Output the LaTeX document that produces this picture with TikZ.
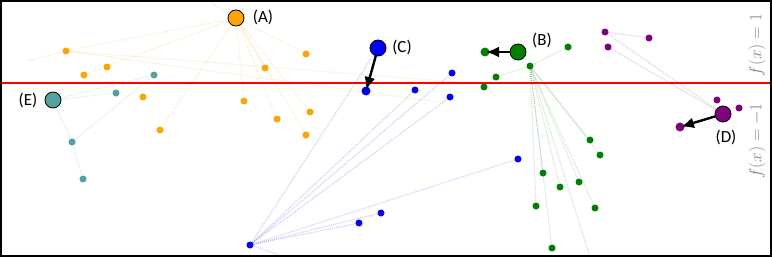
\documentclass[tikz,border=0pt]{standalone}
\usepackage{fontspec}
\setmainfont{Carlito}
\usepackage{tikz}
\usetikzlibrary{arrows.meta,backgrounds}
\definecolor{dotorange}{HTML}{FFA500}
\definecolor{dotgreen}{HTML}{008000}
\definecolor{dotblue}{HTML}{0000FF}
\definecolor{dotpurple}{HTML}{800080}
\definecolor{dotteal}{HTML}{52A3A0}
\definecolor{labelgray}{HTML}{808080}
\tikzset{
  bigdot/.style={circle,draw=black,line width=0.8pt,minimum size=16pt,inner sep=0pt},
  dot/.style={circle,minimum size=7pt,inner sep=0pt},
  tipdot/.style={dot,minimum size=9pt},
  link/.style={densely dotted,line width=1.1pt,draw opacity=0.2},
  push/.style={-{Latex[length=13pt,width=11pt]},line width=2.4pt,draw=black,shorten >=1pt},
  tag/.style={font=\fontsize{17}{19}\selectfont,inner sep=1pt},
  sidelabel/.style={rotate=90,text=labelgray,font=\fontsize{16}{18}\selectfont,inner sep=1pt},
}
\begin{document}
\begin{tikzpicture}[x=1pt,y=-1pt]
  \useasboundingbox (0,0) rectangle (772,257);
  \draw[red,line width=1.6pt] (0,83) -- (772,83);

  \node[bigdot,fill=dotorange] (A) at (236,18) {};
  \node[bigdot,fill=dotgreen] (B) at (518,52) {};
  \node[bigdot,fill=dotblue] (C) at (378,48) {};
  \node[bigdot,fill=dotpurple] (D) at (723,114) {};
  \node[bigdot,fill=dotteal] (E) at (53,100) {};
  \node[tag] (la) at (263,17) {(A)};
  \node[tag] (lb) at (542,40) {(B)};
  \node[tag] (lc) at (402,47) {(C)};
  \node[tag] (ld) at (726,137) {(D)};
  \node[tag] (le) at (28,100) {(E)};

  \node[dot,fill=dotorange] (o1) at (66,51) {};
  \node[dot,fill=dotorange] (o2) at (107,67) {};
  \node[dot,fill=dotorange] (o3) at (84,75) {};
  \node[dot,fill=dotorange] (o4) at (306,54) {};
  \node[dot,fill=dotorange] (o5) at (265,68) {};
  \node[dot,fill=dotorange] (o6) at (143,97) {};
  \node[dot,fill=dotorange] (o7) at (244,101) {};
  \node[dot,fill=dotorange] (o8) at (310,112) {};
  \node[dot,fill=dotorange] (o9) at (277,119) {};
  \node[dot,fill=dotorange] (o10) at (160,130) {};
  \node[dot,fill=dotorange] (o11) at (306,135) {};

  \node[dot,fill=dotteal] (t1) at (154,75) {};
  \node[dot,fill=dotteal] (t2) at (116,93) {};
  \node[dot,fill=dotteal] (t3) at (72,142) {};
  \node[dot,fill=dotteal] (t4) at (83,179) {};

  \node[tipdot,fill=dotblue] (c0) at (366,91) {};
  \node[dot,fill=dotblue] (b0) at (250,245) {};
  \node[dot,fill=dotblue] (b1) at (415,90) {};
  \node[dot,fill=dotblue] (b2) at (452,73) {};
  \node[dot,fill=dotblue] (b3) at (450,97) {};
  \node[dot,fill=dotblue] (b4) at (518,159) {};
  \node[dot,fill=dotblue] (b5) at (381,213) {};
  \node[dot,fill=dotblue] (b6) at (359,223) {};

  \node[tipdot,fill=dotgreen] (gt) at (485,52) {};
  \node[dot,fill=dotgreen] (g0) at (530,66) {};
  \node[dot,fill=dotgreen] (g1) at (496,77) {};
  \node[dot,fill=dotgreen] (g2) at (484,87) {};
  \node[dot,fill=dotgreen] (g3) at (568,47) {};
  \node[dot,fill=dotgreen] (g4) at (590,140) {};
  \node[dot,fill=dotgreen] (g5) at (600,155) {};
  \node[dot,fill=dotgreen] (g6) at (543,173) {};
  \node[dot,fill=dotgreen] (g7) at (560,187) {};
  \node[dot,fill=dotgreen] (g8) at (579,182) {};
  \node[dot,fill=dotgreen] (g9) at (536,206) {};
  \node[dot,fill=dotgreen] (g10) at (595,208) {};
  \node[dot,fill=dotgreen] (g11) at (552,248) {};

  \node[tipdot,fill=dotpurple] (dt) at (680,127) {};
  \node[dot,fill=dotpurple] (p1) at (605,32) {};
  \node[dot,fill=dotpurple] (p2) at (649,38) {};
  \node[dot,fill=dotpurple] (p3) at (608,47) {};
  \node[dot,fill=dotpurple] (p4) at (717,100) {};
  \node[dot,fill=dotpurple] (p5) at (739,108) {};

  \node[sidelabel] (fup) at (757,45) {$f(x)=1$};
  \node[sidelabel] (fdown) at (757,141) {$f(x)=-1$};

  \coordinate (atop) at (207,0);
  \coordinate (oleft) at (28,61);
  \coordinate (ofar1) at (470,83);
  \coordinate (ofar2) at (445,103);
  \coordinate (bdown) at (285,257);
  \coordinate (gdown) at (590,257);

  \begin{scope}[on background layer]
    \draw[link,dotorange] (A) -- (o1); \draw[link,dotorange] (A) -- (o3);
    \draw[link,dotorange] (A) -- (o4); \draw[link,dotorange] (A) -- (o5);
    \draw[link,dotorange] (A) -- (o7); \draw[link,dotorange] (A) -- (o8);
    \draw[link,dotorange] (A) -- (o9); \draw[link,dotorange] (A) -- (o10);
    \draw[link,dotorange] (A) -- (o11); \draw[link,dotorange] (A) -- (atop);
    \draw[link,dotorange] (oleft) -- (o1); \draw[link,dotorange] (o1) -- (ofar1);
    \draw[link,dotorange] (o1) -- (ofar2);
    \draw[link,dotteal] (E) -- (t1); \draw[link,dotteal] (E) -- (t2);
    \draw[link,dotteal] (E) -- (t3); \draw[link,dotteal] (t3) -- (t4);
    \draw[link,dotteal] (t3) -- (t1);
    \draw[link,dotblue] (b0) -- (C); \draw[link,dotblue] (b0) -- (b1);
    \draw[link,dotblue] (b0) -- (b2); \draw[link,dotblue] (b0) -- (b3);
    \draw[link,dotblue] (b0) -- (b4); \draw[link,dotblue] (b0) -- (b5);
    \draw[link,dotblue] (b0) -- (b6); \draw[link,dotblue] (b0) -- (bdown);
    \draw[link,dotgreen] (g0) -- (g1); \draw[link,dotgreen] (g0) -- (g3);
    \draw[link,dotgreen] (g0) -- (g4); \draw[link,dotgreen] (g0) -- (g5);
    \draw[link,dotgreen] (g0) -- (g6); \draw[link,dotgreen] (g0) -- (g7);
    \draw[link,dotgreen] (g0) -- (g8); \draw[link,dotgreen] (g0) -- (g9);
    \draw[link,dotgreen] (g0) -- (g10); \draw[link,dotgreen] (g0) -- (g11);
    \draw[link,dotgreen] (g0) -- (gdown);
    \draw[link,dotpurple] (p1) -- (p2); \draw[link,dotpurple] (p1) -- (D);
    \draw[link,dotpurple] (p3) -- (D);
  \end{scope}

  \draw[push] (C) -- (c0.center);
  \draw[push] (B) -- (gt.center);
  \draw[push] (D) -- (dt.center);

  \draw[line width=2pt] (1,1) rectangle (771,256);
\end{tikzpicture}
\end{document}
